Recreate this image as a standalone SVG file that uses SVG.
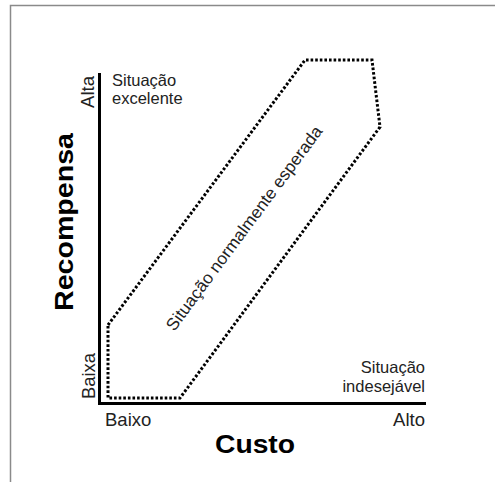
<svg xmlns="http://www.w3.org/2000/svg" width="495" height="482" viewBox="0 0 495 482">
<style>
.t{font-family:"Liberation Sans",Arial,sans-serif;fill:#222;}
.b{font-family:"Liberation Sans",Arial,sans-serif;font-weight:bold;fill:#000;}
.dot{fill:none;stroke:#000;stroke-width:3;stroke-dasharray:2.6 2;}
.axis{fill:none;stroke:#000;stroke-width:3;}
</style>
<rect width="495" height="482" fill="#fff"/>
<g id="frame">
<path d="M10.5,482 V5.5 H495" fill="none" stroke="#8a8a8a" stroke-width="1.5"/>
</g>
<g id="axes">
<path class="axis" d="M99.5,73 V403.5 H426"/>
</g>
<g id="region">
<polygon class="dot" points="108,325 305,60 372,60 380,127 180,398 108,398"/>
<text class="t" font-size="17" text-anchor="middle" transform="translate(244,228) rotate(-53.4)" dy="6" textLength="250" lengthAdjust="spacingAndGlyphs">Situação normalmente esperada</text>
</g>
<g id="labels">
<text class="t" font-size="18" transform="translate(94,108) rotate(-90)" textLength="32" lengthAdjust="spacingAndGlyphs">Alta</text>
<text class="t" font-size="18" transform="translate(95,399) rotate(-90)" textLength="46" lengthAdjust="spacingAndGlyphs">Baixa</text>
<text class="t" font-size="16.5" x="112" y="86">Situação</text>
<text class="t" font-size="16.5" x="112" y="104">excelente</text>
<text class="t" font-size="16.5" x="425" y="373" text-anchor="end">Situação</text>
<text class="t" font-size="16.5" x="425" y="392" text-anchor="end">indesejável</text>
<text class="t" font-size="18.5" x="105" y="426">Baixo</text>
<text class="t" font-size="18.5" x="425" y="426" text-anchor="end">Alto</text>
<text class="b" font-size="25" x="255" y="453" text-anchor="middle" textLength="80" lengthAdjust="spacingAndGlyphs">Custo</text>
<text class="b" font-size="25" transform="translate(73,222) rotate(-90)" text-anchor="middle" textLength="178" lengthAdjust="spacingAndGlyphs">Recompensa</text>
</g>
</svg>
